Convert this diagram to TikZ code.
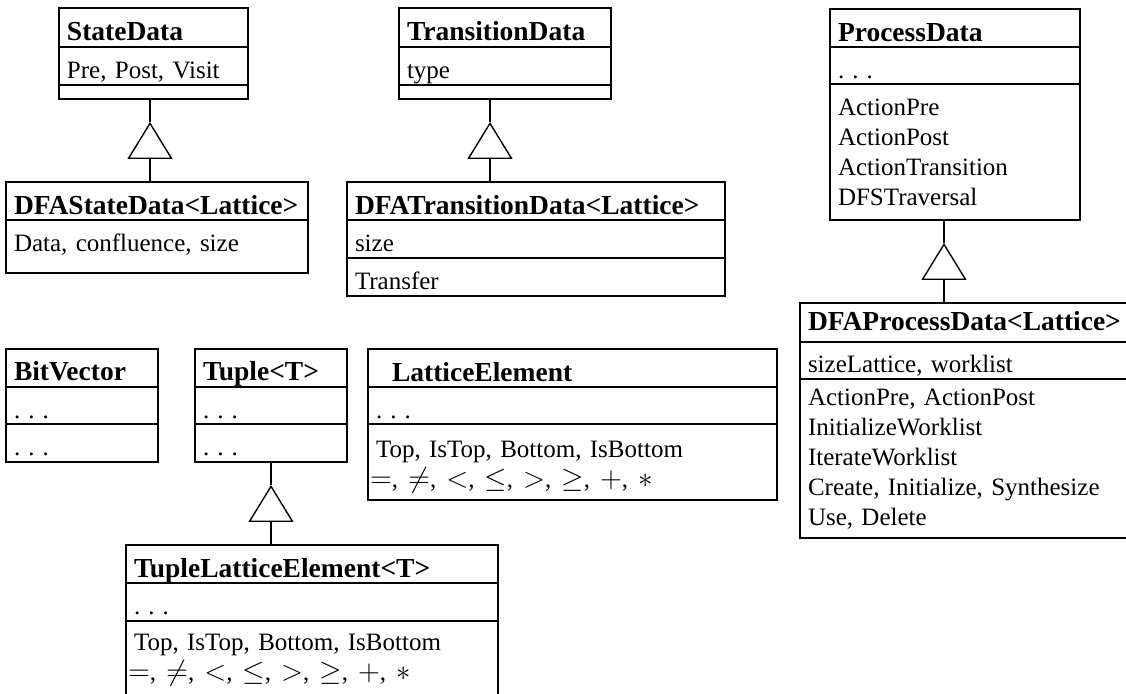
\documentclass[tikz,border=0pt]{standalone}
\usepackage{fontspec}
\setmainfont{Liberation Serif}
\usetikzlibrary{positioning,arrows.meta}

\newcommand{\bodyfont}{\fontsize{12.5}{15}\selectfont}
\newcommand{\headfont}{\fontsize{13.75}{16}\selectfont\bfseries}
\newcommand{\threedots}{.\hspace{4pt}.\hspace{4pt}.}
\newcommand{\opsym}[1]{{\fontsize{14.4}{15}\selectfont$#1$}}
\newcommand{\oprow}{\hspace*{-3pt}\opsym{=},\hspace{5pt}\opsym{\neq},\hspace{5pt}\opsym{<},\hspace{5pt}\opsym{\leq},\hspace{5pt}\opsym{>},\hspace{5pt}\opsym{\geq},\hspace{5pt}\opsym{+},\hspace{5pt}\opsym{*}}

\tikzset{
  compart/.style={draw, line width=0.7pt, anchor=north west, outer sep=0pt,
    inner xsep=4pt, inner ysep=0pt, align=left, font=\bodyfont, text height=16pt},
  classname/.style={compart, font=\headfont, text height=16.5pt},
  inherit/.style={-{Triangle[open,length=18.5pt,width=22.5pt]}, line width=0.7pt}
}

\begin{document}
\begin{tikzpicture}[x=0.5pt,y=-0.5pt]
\useasboundingbox (0,0) rectangle (1126,694);

% states
\node[classname, text width=86.5pt, text depth=3pt] (sd) at (59,8) {StateData};
\node[compart, text width=86.5pt, text depth=3pt, below=0pt of sd] (sdattr) {Pre, Post, Visit};
\node[compart, text width=86.5pt, text height=0pt, text depth=7pt, below=0pt of sdattr] (sdops) {};
\node[classname, text width=143pt, text depth=2.5pt] (dsd) at (6,182) {DFAStateData<Lattice>};
\node[compart, text width=143pt, text depth=10.5pt, below=0pt of dsd] (dsdattr) {Data, confluence, size};

% transitions
\node[classname, text width=98pt, text depth=3pt] (td) at (399,8) {TransitionData};
\node[compart, text width=98pt, text depth=3pt, below=0pt of td] (tdattr) {type};
\node[compart, text width=98pt, text height=0pt, text depth=7pt, below=0pt of tdattr] (tdops) {};
\node[classname, text width=181pt, text depth=2.5pt] (dtd) at (347,182) {DFATransitionData<Lattice>};
\node[compart, text width=181pt, text depth=3pt, below=0pt of dtd] (dtdattr) {size};
\node[compart, text width=181pt, text depth=3pt, below=0pt of dtdattr] (dtdops) {Transfer};

% process
\node[classname, text width=117pt, text depth=2.5pt] (pd) at (830,9) {ProcessData};
\node[compart, text width=117pt, text depth=2.5pt, below=0pt of pd] (pdattr) {\threedots};
\node[compart, text width=117pt, text depth=52pt, below=0pt of pdattr] (pdops)
  {ActionPre\\ActionPost\\ActionTransition\\DFSTraversal};
\node[classname, text width=162pt, text height=14pt, text depth=5.5pt] (dpd) at (800,303) {DFAProcessData<Lattice>};
\node[compart, text width=162pt, text height=15.5pt, text depth=3pt, below=0pt of dpd] (dpdattr) {sizeLattice, worklist};
\node[compart, text width=162pt, text height=13.5pt, text depth=66pt, below=0pt of dpdattr] (dpdops)
  {ActionPre, ActionPost\\InitializeWorklist\\IterateWorklist\\Create, Initialize, Synthesize\\Use, Delete};

% lattices
\node[classname, text width=68pt, text height=16pt, text depth=3pt] (bv) at (6,349) {BitVector};
\node[compart, text width=68pt, text depth=2.5pt, below=0pt of bv] (bvattr) {\threedots};
\node[compart, text width=68pt, text depth=3pt, below=0pt of bvattr] (bvops) {\threedots};
\node[classname, text width=68pt, text height=16pt, text depth=3pt] (tp) at (195,349) {Tuple<T>};
\node[compart, text width=68pt, text depth=2.5pt, below=0pt of tp] (tpattr) {\threedots};
\node[compart, text width=68pt, text depth=3pt, below=0pt of tpattr] (tpops) {\threedots};
\node[classname, text width=196.5pt, text depth=2.5pt] (le) at (368,349) {\hspace*{8pt}LatticeElement};
\node[compart, text width=196.5pt, text depth=2.5pt, below=0pt of le] (leattr) {\threedots};
\node[compart, text width=196.5pt, text height=17pt, text depth=21pt, below=0pt of leattr] (leops)
  {Top, IsTop, Bottom, IsBottom\\\oprow};
\node[classname, text width=178pt, text depth=2.5pt] (tle) at (126,545) {TupleLatticeElement<T>};
\node[compart, text width=178pt, text depth=3pt, below=0pt of tle] (tleattr) {\threedots};
\node[compart, text width=178pt, text height=15pt, text depth=38.5pt, below=0pt of tleattr] (tleops)
  {Top, IsTop, Bottom, IsBottom\\\oprow};

% generalisations
\coordinate (sdtip) at (150,122);
\coordinate (tdtip) at (490,122);
\coordinate (pdtip) at (944,243);
\coordinate (tptip) at (271,485);
\draw[line width=0.7pt] (sdtip |- sdops.south) -- (sdtip);
\draw[inherit] (sdtip |- dsd.north) -- (sdtip);
\draw[line width=0.7pt] (tdtip |- tdops.south) -- (tdtip);
\draw[inherit] (tdtip |- dtd.north) -- (tdtip);
\draw[line width=0.7pt] (pdtip |- pdops.south) -- (pdtip);
\draw[inherit] (pdtip |- dpd.north) -- (pdtip);
\draw[line width=0.7pt] (tptip |- tpops.south) -- (tptip);
\draw[inherit] (tptip |- tle.north) -- (tptip);
\end{tikzpicture}
\end{document}
